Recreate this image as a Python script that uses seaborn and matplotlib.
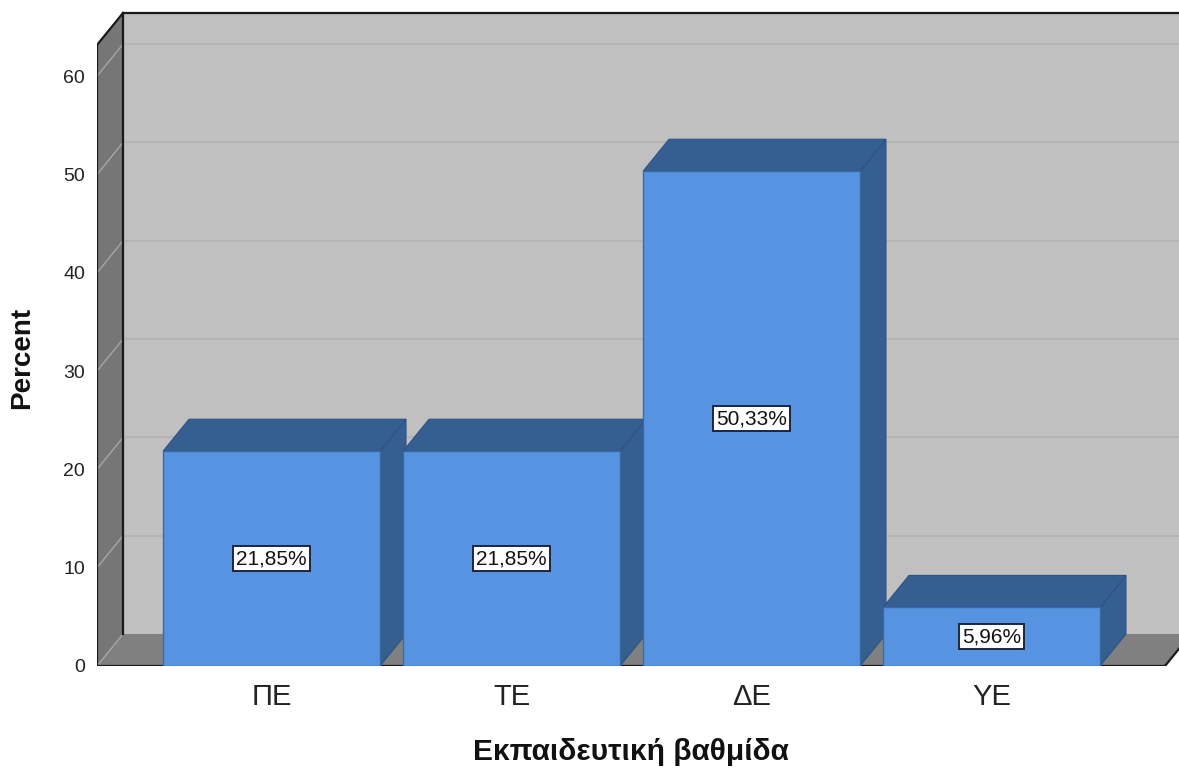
import matplotlib
matplotlib.use("Agg")
import matplotlib.pyplot as plt
from matplotlib.patches import Polygon
import seaborn as sns

# Education level shares (percent of respondents)
categories = ["ΠΕ", "ΤΕ", "ΔΕ", "ΥΕ"]
percent = [21.85, 21.85, 50.33, 5.96]
value_labels = ["21,85%", "21,85%", "50,33%", "5,96%"]
y_ticks = [0, 10, 20, 30, 40, 50, 60]

sns.set_theme(style="white")
plt.rcParams["font.family"] = ["Liberation Sans", "DejaVu Sans"]

W, H = 1179, 771
fig = plt.figure(figsize=(W / 100, H / 100), dpi=100)
ax = fig.add_axes([97 / W, 105 / H, (W - 97) / W, 666 / H])
ax.set_facecolor("none")
for s in ax.spines.values():
    s.set_visible(False)

# chart box geometry (front plane in data units, plus a depth offset)
X0, XR = -0.7271, 3.7229          # front-left / front-right of the floor
DX, DY = 26 / 240, 32 / 9.83      # depth shift of the back plane
TOP = 66.43 - DY                  # front top of the side wall
XMAX = 3.78125
YMAX = 67.75

WALL = "#c0c0c0"
SIDE = "#767676"
FLOOR = "#808080"

# front faces of the bars
FRONT = "#5694e2"
DARK = "#355e91"
sns.barplot(x=categories, y=percent, order=categories, color=FRONT, saturation=1,
            width=0.904, edgecolor="#3b6aa3", linewidth=1.0, ax=ax)

# back wall
ax.add_patch(Polygon([(X0 + DX, DY), (XR + DX + 1, DY), (XR + DX + 1, TOP + DY), (X0 + DX, TOP + DY)],
                     closed=True, facecolor=WALL, edgecolor="none", zorder=0.2))
# left side wall
ax.add_patch(Polygon([(X0, 0), (X0, TOP), (X0 + DX, TOP + DY), (X0 + DX, DY)],
                     closed=True, facecolor=SIDE, edgecolor="none", zorder=0.3))
# floor
ax.add_patch(Polygon([(X0, 0), (XR, 0), (XR + DX, DY), (X0 + DX, DY)],
                     closed=True, facecolor=FLOOR, edgecolor="none", zorder=0.3))

# grid lines on the back wall and the side wall
for t in y_ticks:
    if t > 0:
        ax.plot([X0 + DX, XMAX + 1], [t + DY, t + DY], color="#b2b2b2", lw=1.2,
                zorder=0.25, solid_capstyle="butt")
    ax.plot([X0, X0 + DX], [t, t + DY], color="#a6a6a6", lw=1.0, zorder=0.35)

# box outlines
edge_kw = dict(color="#1a1a1a", lw=1.6, zorder=0.5, solid_capstyle="projecting")
ax.plot([X0, X0], [0, TOP], **edge_kw)
ax.plot([X0, X0 + DX], [TOP, TOP + DY], **edge_kw)
ax.plot([X0 + DX, XMAX + 1], [TOP + DY, TOP + DY], **edge_kw)
ax.plot([X0 + DX, X0 + DX], [DY, TOP + DY], **edge_kw)
ax.plot([X0, XR], [0, 0], **edge_kw)
ax.plot([XR, XR + DX], [0, DY], **edge_kw)

bars = list(ax.containers[0])
for i, bar in enumerate(bars):
    xl, w, h = bar.get_x(), bar.get_width(), bar.get_height()
    xr = xl + w
    z = 2 + i
    bar.set_zorder(z + 0.5)
    top = Polygon([(xl, h), (xr, h), (xr + DX, h + DY), (xl + DX, h + DY)], closed=True,
                  facecolor=DARK, edgecolor="#2d5283", lw=0.8, zorder=z)
    side = Polygon([(xr, 0), (xr, h), (xr + DX, h + DY), (xr + DX, DY)], closed=True,
                   facecolor=DARK, edgecolor="#2d5283", lw=0.8, zorder=z)
    ax.add_patch(side)
    ax.add_patch(top)
    ax.text(xl + w / 2, h / 2, value_labels[i], ha="center", va="center",
            fontsize=15, color="#111111", zorder=z + 0.8,
            bbox=dict(boxstyle="square,pad=0.15", facecolor="white",
                      edgecolor="#1c2540", lw=1.4))

ax.set_xlim(X0, XMAX)
ax.set_ylim(0, YMAX)

ax.set_yticks(y_ticks)
ax.set_yticklabels([str(t) for t in y_ticks])
ax.tick_params(axis="y", length=0, pad=8.5, labelsize=14, labelcolor="#222222")
ax.tick_params(axis="x", length=0, pad=12, labelsize=21, labelcolor="#222222")

ax.set_ylabel("Percent", fontsize=20, fontweight="bold", color="#111111")
ax.set_xlabel("Εκπαιδευτική βαθμίδα", fontsize=21.5, fontweight="bold", color="#111111")
ax.yaxis.label.set_verticalalignment("center")
ax.xaxis.label.set_verticalalignment("center")
ax.yaxis.set_label_coords((22 - 97) / 1082, (666 - 358) / 666)
ax.xaxis.set_label_coords((631 - 97) / 1082, (666 - 752) / 666)

fig.savefig("out.png", dpi=100, facecolor="white")
